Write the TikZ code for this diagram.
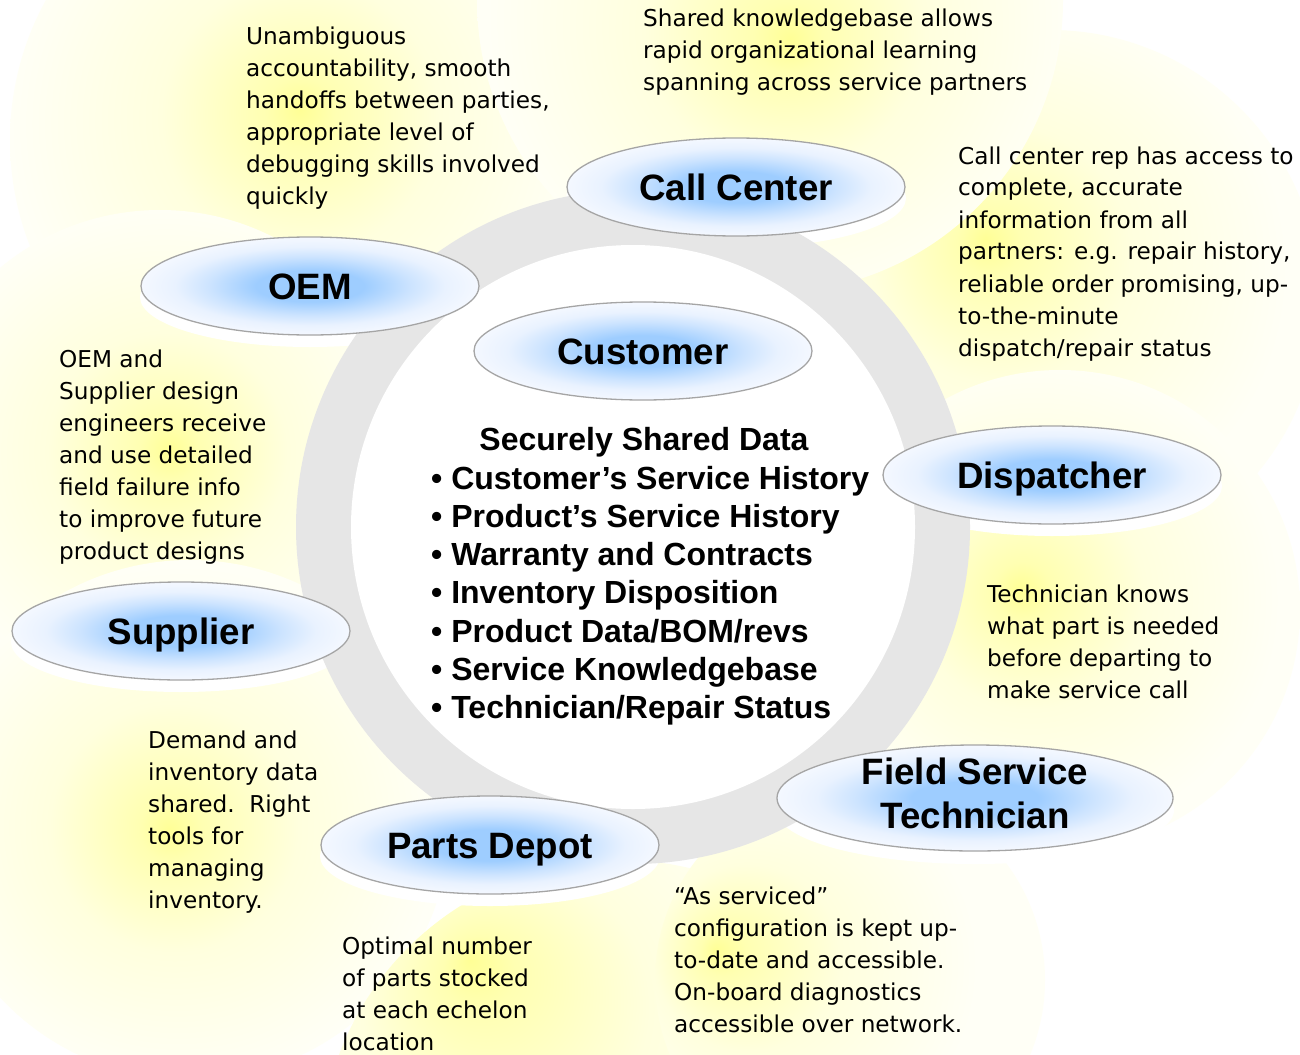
\documentclass[tikz,border=0pt]{standalone}
\usepackage{fontspec}
\setmainfont{DejaVu Sans}
\newfontfamily\labfont{Liberation Sans}
\usetikzlibrary{shapes.geometric}
\definecolor{ringgray}{RGB}{230,230,230}
\definecolor{ellline}{RGB}{165,165,165}
\definecolor{bYa}{RGB}{255,255,150}
\definecolor{bYb}{RGB}{255,255,178}
\definecolor{bYc}{RGB}{255,255,222}
\definecolor{bYd}{RGB}{255,255,246}
\definecolor{eBa}{RGB}{158,205,255}
\definecolor{eBb}{RGB}{205,228,255}
\definecolor{eBc}{RGB}{233,242,255}
\definecolor{eBd}{RGB}{244,248,255}
\newcommand\blobshade[3]{\pgfdeclareradialshading{#1}{\pgfpoint{#2bp}{#3bp}}{color(0bp)=(bYa); color(3bp)=(bYb); color(12bp)=(bYc); color(25bp)=(bYd); color(50bp)=(bYd)}}
\blobshade{blobA}{0}{2.6}
\blobshade{blobB}{1.7}{-3.4}
\blobshade{blobC}{-6}{5.6}
\blobshade{blobD}{-4.2}{2.1}
\blobshade{blobE}{1}{1}
\blobshade{blobF}{-2}{-1}
\blobshade{blobG}{-12.5}{16.7}
\blobshade{blobH}{-17.3}{3.8}
\pgfdeclareradialshading{ellfill}{\pgfpointorigin}{color(0bp)=(eBa); color(8bp)=(eBa); color(15bp)=(eBb); color(20bp)=(eBc); color(25bp)=(eBd); color(50bp)=(eBd)}
\newcommand\ltab[1]{\begin{tabular}[t]{@{}l@{}}#1\end{tabular}}
\newcommand\ctab[1]{\begin{tabular}{@{}c@{}}#1\end{tabular}}
\tikzset{
  ell/.style={ellipse, draw=ellline, line width=1.3pt, shade, shading=ellfill, inner sep=0pt, minimum width=338pt, minimum height=98pt},
  lab/.style={inner sep=0pt, font=\labfont\bfseries\fontsize{36.7}{44}\selectfont, text height=26.3pt, text depth=0pt},
  labtwo/.style={inner sep=0pt, font=\labfont\bfseries\fontsize{36.7}{44}\selectfont},
  ann/.style={anchor=base west, inner sep=0pt, font=\fontsize{23.2}{32}\selectfont},
  ctitle/.style={anchor=base, inner sep=0pt, font=\labfont\bfseries\fontsize{32}{38.3}\selectfont},
  clist/.style={anchor=base west, inner sep=0pt, font=\labfont\bfseries\fontsize{32}{38.3}\selectfont},
}
\begin{document}
\begin{tikzpicture}[x=1pt,y=-1pt]
\useasboundingbox (0,0) rectangle (1300,1054);
\fill[white] (0,0) rectangle (1300,1054);
% yellow glows
\shade[shading=blobA] (300,140) circle[radius=290pt];
\shade[shading=blobC] (1050,300) circle[radius=270pt];
\shade[shading=blobB] (770,0) circle[radius=293pt];
\shade[shading=blobE] (160,460) circle[radius=250pt];
\shade[shading=blobD] (1060,610) circle[radius=240pt];
\shade[shading=blobF] (190,820) circle[radius=260pt];
\shade[shading=blobG] (620,1160) circle[radius=300pt];
\shade[shading=blobH] (850,980) circle[radius=195pt];
% white halos under the ellipses
\fill[white] (310,297) ellipse[x radius=170pt, y radius=50pt];
\fill[white] (181,642) ellipse[x radius=170pt, y radius=50pt];
\fill[white] (490,856) ellipse[x radius=170pt, y radius=50pt];
\fill[white] (975,810) ellipse[x radius=199pt, y radius=54pt];
\fill[white] (1052,486) ellipse[x radius=170pt, y radius=50pt];
\fill[white] (736,198) ellipse[x radius=170pt, y radius=50pt];
% ring
\fill[ringgray] (633,527) circle[radius=337pt];
\fill[white] (633,527) circle[radius=282pt];
% partner ellipses
\node[ell] (cc) at (736,187) {};
\node[lab] (cct) at (cc) {Call Center};
\node[ell] (oem) at (310,286) {};
\node[lab] (oemt) at (oem) {OEM};
\node[ell] (cu) at (643,351) {};
\node[lab] (cut) at (cu) {Customer};
\node[ell] (di) at (1052,475) {};
\node[lab] (dit) at (di) {Dispatcher};
\node[ell] (su) at (181,631) {};
\node[lab] (sut) at (su) {Supplier};
\node[ell, minimum width=396pt, minimum height=106pt] (fs) at (975,798) {};
\node[labtwo] (fst) at (fs) {\ctab{Field Service\\Technician}};
\node[ell] (pd) at (490,845) {};
\node[lab] (pdt) at (pd) {Parts Depot};
% central shared data
\node[ctitle] (sd) at (644,450) {Securely Shared Data};
\node[clist] (sdl) at (431,489) {\ltab{• Customer’s Service History\\• Product’s Service History\\• Warranty and Contracts\\• Inventory Disposition\\• Product Data/BOM/revs\\• Service Knowledgebase\\• Technician/Repair Status}};
% annotations
\node[ann] (a1) at (246,45) {\ltab{Unambiguous\\accountability, smooth\\handoffs between parties,\\appropriate level of\\debugging skills involved\\quickly}};
\node[ann] (a2) at (643,27) {\ltab{Shared knowledgebase allows\\rapid organizational learning\\spanning across service partners}};
\node[ann] (a3) at (958,164) {\ltab{Call center rep has access to\\complete, accurate\\information from all\\partners: e.g. repair history,\\reliable order promising, up-\\to-the-minute\\dispatch/repair status}};
\node[ann] (a4) at (59,367) {\ltab{OEM and\\Supplier design\\engineers receive\\and use detailed\\field failure info\\to improve future\\product designs}};
\node[ann] (a5) at (987,602) {\ltab{Technician knows\\what part is needed\\before departing to\\make service call}};
\node[ann] (a6) at (148,748) {\ltab{Demand and\\inventory data\\shared.\ \ Right\\tools for\\managing\\inventory.}};
\node[ann] (a7) at (342,954) {\ltab{Optimal number\\of parts stocked\\at each echelon\\location}};
\node[ann] (a8) at (674,904) {\ltab{“As serviced”\\configuration is kept up-\\to-date and accessible.\\On-board diagnostics\\accessible over network.}};
\end{tikzpicture}
\end{document}
